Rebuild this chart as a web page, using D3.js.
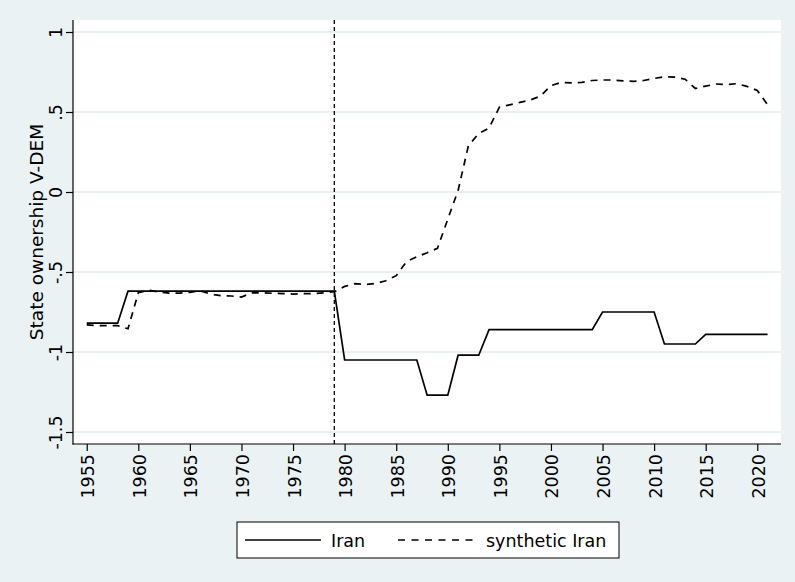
<!DOCTYPE html>
<html>
<head>
<meta charset="utf-8">
<script src="https://cdn.jsdelivr.net/npm/d3@7"></script>
<style>
  html, body { margin: 0; padding: 0; background: #eaf2f3; }
  svg { display: block; }
  text { font-family: "DejaVu Sans", "Liberation Sans", Arial, sans-serif; fill: #000; }
</style>
</head>
<body>
<svg id="chart" width="795" height="582"></svg>
<script>
// ---- Data ----
const years = d3.range(1955, 2022);
const iran = [
  -0.82, -0.82, -0.82, -0.82,
  -0.62, -0.62, -0.62, -0.62, -0.62, -0.62, -0.62, -0.62, -0.62, -0.62, -0.62,
  -0.62, -0.62, -0.62, -0.62, -0.62, -0.62, -0.62, -0.62, -0.62, -0.62,
  -1.05, -1.05, -1.05, -1.05, -1.05, -1.05, -1.05, -1.05,
  -1.27, -1.27, -1.27,
  -1.02, -1.02, -1.02,
  -0.86, -0.86, -0.86, -0.86, -0.86, -0.86, -0.86, -0.86, -0.86, -0.86, -0.86,
  -0.75, -0.75, -0.75, -0.75, -0.75, -0.75,
  -0.95, -0.95, -0.95, -0.95,
  -0.89, -0.89, -0.89, -0.89, -0.89, -0.89, -0.89
];
const syntheticIran = [
  -0.83, -0.835, -0.835, -0.835, -0.855,
  -0.63, -0.613, -0.625, -0.632, -0.632, -0.627, -0.617, -0.638, -0.648, -0.65,
  -0.657, -0.63, -0.63, -0.633, -0.635, -0.638, -0.635, -0.635, -0.63, -0.623,
  -0.59, -0.573, -0.578, -0.571, -0.555, -0.523, -0.435, -0.405, -0.38, -0.352,
  -0.17, 0.01, 0.29, 0.365, 0.40, 0.53, 0.545, 0.56, 0.575, 0.60, 0.665,
  0.685, 0.682, 0.685, 0.697, 0.70, 0.70, 0.695, 0.692, 0.697, 0.71,
  0.72, 0.718, 0.705, 0.647, 0.662, 0.675, 0.672, 0.677, 0.66, 0.635, 0.545
];
const xTicks = [1955, 1960, 1965, 1970, 1975, 1980, 1985, 1990, 1995, 2000, 2005, 2010, 2015, 2020];
const yTicks = [1, 0.5, 0, -0.5, -1, -1.5];
const yTickLabels = ["1", ".5", "0", "-.5", "-1", "-1.5"];
const treatmentYear = 1979;
const seriesNames = ["Iran", "synthetic Iran"];
const yTitle = "State ownership V-DEM";

// ---- Layout ----
const FONT = "DejaVu Sans, Liberation Sans, Arial, sans-serif";
const svg = d3.select("#chart");
const plot = { left: 73, right: 781, top: 20, bottom: 444 };
const x = d3.scaleLinear().domain([1953.67, 2022.3]).range([plot.left, plot.right]);
const y = d3.scaleLinear().domain([-1.575, 1.075]).range([plot.bottom, plot.top]);

svg.append("rect").attr("width", 795).attr("height", 582).attr("fill", "#eaf2f3");
svg.append("rect")
  .attr("x", plot.left).attr("y", plot.top)
  .attr("width", plot.right - plot.left).attr("height", plot.bottom - plot.top)
  .attr("fill", "#ffffff");

// gridlines
svg.append("g").selectAll("line").data(yTicks).join("line")
  .attr("x1", plot.left).attr("x2", plot.right)
  .attr("y1", d => y(d)).attr("y2", d => y(d))
  .attr("stroke", "#e1ebee").attr("stroke-width", 1.4);

// y axis
const yAxis = svg.append("g").attr("transform", `translate(${plot.left},0)`)
  .call(d3.axisLeft(y).tickValues(yTicks).tickSize(7).tickFormat((d, i) => yTickLabels[i]));
yAxis.select(".domain").attr("stroke", "#000").attr("stroke-width", 1.2)
  .attr("d", `M0,${plot.top}V${plot.bottom + 0.5}`);
yAxis.selectAll(".tick line").attr("stroke", "#000").attr("stroke-width", 1.2);
yAxis.selectAll(".tick text")
  .attr("font-size", 17.5).attr("font-family", FONT)
  .attr("text-anchor", "middle")
  .attr("x", null).attr("dy", null)
  .attr("transform", "translate(-11,0) rotate(-90)")
  .attr("y", 0);

// x axis
const xAxis = svg.append("g").attr("transform", `translate(0,${plot.bottom})`)
  .call(d3.axisBottom(x).tickValues(xTicks).tickSize(7).tickFormat(d3.format("d")));
xAxis.select(".domain").attr("stroke", "#000").attr("stroke-width", 1.2)
  .attr("d", `M${plot.left - 0.5},0H${plot.right}`);
xAxis.selectAll(".tick line").attr("stroke", "#000").attr("stroke-width", 1.2);
xAxis.selectAll(".tick text")
  .attr("font-size", 17.5).attr("font-family", FONT)
  .attr("text-anchor", "end")
  .attr("y", null).attr("dy", null)
  .attr("transform", "translate(7,10) rotate(-90)")
  .attr("x", 0);

// y title
svg.append("text")
  .attr("transform", `translate(43,${(plot.top + plot.bottom) / 2}) rotate(-90)`)
  .attr("text-anchor", "middle")
  .attr("font-size", 18.5)
  .text(yTitle);

// lines
const line = d3.line().x((d, i) => x(years[i])).y(d => y(d));
svg.append("path").datum(syntheticIran)
  .attr("d", line).attr("fill", "none").attr("stroke", "#000")
  .attr("stroke-width", 1.7).attr("stroke-dasharray", "7,6");
svg.append("path").datum(iran)
  .attr("d", line).attr("fill", "none").attr("stroke", "#000")
  .attr("stroke-width", 1.7);

// treatment line
svg.append("line")
  .attr("x1", x(treatmentYear)).attr("x2", x(treatmentYear))
  .attr("y1", plot.top).attr("y2", plot.bottom)
  .attr("stroke", "#000").attr("stroke-width", 1.3).attr("stroke-dasharray", "4,3");

// legend
const lg = svg.append("g");
lg.append("rect").attr("x", 237).attr("y", 522).attr("width", 382).attr("height", 36)
  .attr("fill", "#fff").attr("stroke", "#000").attr("stroke-width", 1);
lg.append("line").attr("x1", 245).attr("x2", 321).attr("y1", 540).attr("y2", 540)
  .attr("stroke", "#000").attr("stroke-width", 1.7);
lg.append("text").attr("x", 331).attr("y", 547).attr("font-size", 17.5).text(seriesNames[0]);
lg.append("line").attr("x1", 398).attr("x2", 476).attr("y1", 540).attr("y2", 540)
  .attr("stroke", "#000").attr("stroke-width", 1.7).attr("stroke-dasharray", "7,6.5");
lg.append("text").attr("x", 486).attr("y", 547).attr("font-size", 17.5).text(seriesNames[1]);
</script>
</body>
</html>
